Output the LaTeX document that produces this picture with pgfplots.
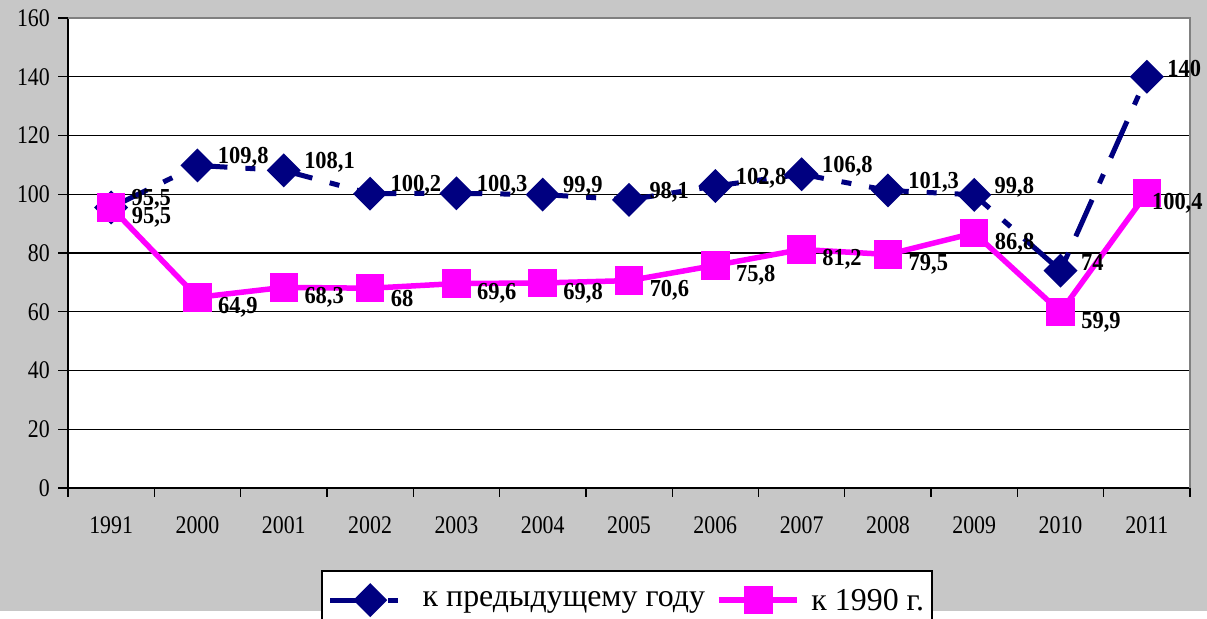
\documentclass[border=0pt]{standalone}
\usepackage{pgfplots}
\usepackage{pgfplotstable}
\pgfplotsset{compat=1.18}
\usepackage{fontspec}
\setmainfont{Liberation Serif}
\newfontfamily\tickfont[FakeStretch=0.86]{Liberation Serif}
\newfontfamily\labfont[FakeStretch=0.92]{Liberation Serif}
\newcommand\yt[1]{\tickfont\fontsize{25.5}{25.5}\selectfont #1}
\definecolor{navyc}{HTML}{000080}
\definecolor{magc}{HTML}{FF00FF}

\pgfplotstableread{
x y lab
0 95.5 95,5
1 109.8 109,8
2 108.1 108,1
3 100.2 100,2
4 100.3 100,3
5 99.9 99,9
6 98.1 98,1
7 102.8 102,8
8 106.8 106,8
9 101.3 101,3
10 99.8 99,8
11 74 74
12 140 140
}\prevyear

\pgfplotstableread{
x y lab
0 95.5 95,5
1 64.9 64,9
2 68.3 68,3
3 68 68
4 69.6 69,6
5 69.8 69,8
6 70.6 70,6
7 75.8 75,8
8 81.2 81,2
9 79.5 79,5
10 86.8 86,8
11 59.9 59,9
12 100.4 {}
}\baseyear

\pgfplotstableread{
x y lab
12 100.4 100,4
}\baseyearlast

\begin{document}
\begin{tikzpicture}[x=1bp,y=1bp]
\useasboundingbox (0,0) rectangle (1207,619);
\fill[white] (0,0) rectangle (1207,619);
\shade[left color=black!22, middle color=black!8, right color=black!22] (0,8) rectangle (1207,619);
\begin{axis}[
  at={(68bp,131bp)}, anchor=south west,
  scale only axis, width=1122bp, height=470bp,
  xmin=-0.5, xmax=12.5, ymin=0, ymax=160,
  axis background/.style={fill=white},
  axis lines*=left,
  axis line style={-, black, line width=1.5bp},
  ymajorgrids, grid style={black, line width=1.3bp},
  ytick={0,20,...,160},
  yticklabels={\yt{0},\yt{20},\yt{40},\yt{60},\yt{80},\yt{100},\yt{120},\yt{140},\yt{160}},
  xtick={0,...,12},
  xticklabels={1991,2000,2001,2002,2003,2004,2005,2006,2007,2008,2009,2010,2011},
  minor xtick={-0.5,0.5,...,12.5},
  tick align=outside, major tick length=10bp, minor tick length=9bp,
  tick style={black, line width=1.3bp},
  major x tick style={draw=none},
  xticklabel style={font=\tickfont\fontsize{25.5}{25.5}\selectfont, yshift=-15bp},
  yticklabel style={font=\tickfont\fontsize{25.5}{25.5}\selectfont, xshift=-4bp, inner sep=4bp},
  clip=false,
  legend style={at={(0.2255,-0.1745)}, anchor=north west, draw=black, line width=1.5bp,
    fill=white, font=\fontsize{32}{32}\selectfont, inner xsep=6bp, inner ysep=16bp,
    /tikz/every even column/.append style={column sep=9bp},
    /tikz/every odd column/.append style={column sep=10bp}},
  legend columns=2,
  legend image code/.code={\draw[mark repeat=2,mark phase=2,#1] plot coordinates {(0bp,0bp) (40bp,0bp) (78bp,0bp)};},
]
\addplot[navyc, line width=5bp, dash pattern=on 40bp off 18bp on 10bp off 18bp,
  mark=square*, mark size=9.5bp, mark options={solid, rotate=45, draw=none, fill=navyc},
  nodes near coords, point meta=explicit symbolic,
  every node near coord/.append style={anchor=west, xshift=17bp, yshift=8bp,
    font=\labfont\bfseries\fontsize{24.5}{24.5}\selectfont, text=black, inner sep=1bp}]
  table[x=x, y=y, meta=lab]{\prevyear};
\addlegendentry{к предыдущему году}
\addplot[magc, line width=5.5bp,
  mark=square*, mark size=11.5bp, mark options={solid, draw=none, fill=magc},
  nodes near coords, point meta=explicit symbolic,
  every node near coord/.append style={anchor=west, xshift=17bp, yshift=-10bp,
    font=\labfont\bfseries\fontsize{24.5}{24.5}\selectfont, text=black, inner sep=1bp}]
  table[x=x, y=y, meta=lab]{\baseyear};
\addlegendentry{к 1990 г.}
\addplot[draw=none, mark=none, forget plot,
  nodes near coords, point meta=explicit symbolic,
  every node near coord/.append style={anchor=west, xshift=4bp, yshift=-10bp,
    font=\labfont\bfseries\fontsize{24.5}{24.5}\selectfont, text=black, inner sep=1bp}]
  table[x=x, y=y, meta=lab]{\baseyearlast};
\draw[gray, line width=1.5bp] (rel axis cs:0,1) -- (rel axis cs:1,1) -- (rel axis cs:1,0);
\end{axis}
\end{tikzpicture}
\end{document}
